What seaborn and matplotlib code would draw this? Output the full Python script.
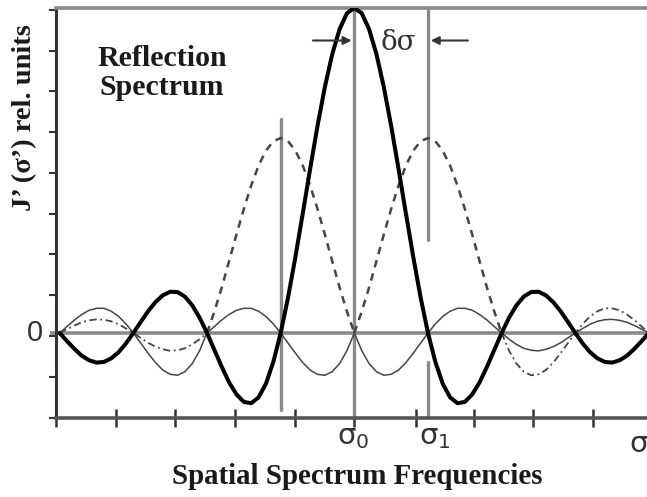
import numpy as np
import pandas as pd
import matplotlib
matplotlib.use("Agg")
import matplotlib.pyplot as plt
import seaborn as sns
from matplotlib.transforms import blended_transform_factory

# ---- data ----
u = np.round(np.linspace(-4.0, 4.0, 81), 1)   # frequency axis, in units of the zero spacing

main_resp = [
    0.000, -0.025, -0.049, -0.070, -0.084, -0.091, -0.089, -0.078, -0.059, -0.032,
    0.000, 0.034, 0.067, 0.095, 0.116, 0.127, 0.126, 0.112, 0.085, 0.047,
    0.000, -0.052, -0.104, -0.152, -0.189, -0.212, -0.216, -0.198, -0.156, -0.089,
    0.000, 0.109, 0.234, 0.368, 0.505, 0.637, 0.757, 0.858, 0.935, 0.984,
    1.000,
    0.984, 0.935, 0.858, 0.757, 0.637, 0.505, 0.368, 0.234, 0.109, 0.000,
    -0.089, -0.156, -0.198, -0.216, -0.212, -0.189, -0.152, -0.104, -0.052, 0.000,
    0.047, 0.085, 0.112, 0.126, 0.127, 0.116, 0.095, 0.067, 0.034, 0.000,
    -0.032, -0.059, -0.078, -0.089, -0.091, -0.084, -0.070, -0.049, -0.025, 0.000,
]

left_resp = [
    0.000, 0.020, 0.040, 0.057, 0.070, 0.076, 0.076, 0.067, 0.051, 0.028,
    0.000, -0.031, -0.062, -0.091, -0.114, -0.127, -0.130, -0.119, -0.094, -0.054,
    0.000, 0.066, 0.140, 0.221, 0.303, 0.382, 0.454, 0.515, 0.561, 0.590,
    0.600,
    0.590, 0.561, 0.515, 0.454, 0.382, 0.303, 0.221, 0.140, 0.066, 0.000,
    -0.054, -0.094, -0.119, -0.130, -0.127, -0.114, -0.091, -0.062, -0.031, 0.000,
    0.028, 0.051, 0.067, 0.076, 0.076, 0.070, 0.057, 0.040, 0.020, 0.000,
    -0.019, -0.035, -0.047, -0.053, -0.055, -0.050, -0.042, -0.030, -0.015, 0.000,
    0.014, 0.027, 0.036, 0.041, 0.042, 0.039, 0.033, 0.023, 0.012, 0.000,
]

right_resp = [
    0.000, 0.012, 0.023, 0.033, 0.039, 0.042, 0.041, 0.036, 0.027, 0.014,
    0.000, -0.015, -0.030, -0.042, -0.050, -0.055, -0.053, -0.047, -0.035, -0.019,
    0.000, 0.020, 0.040, 0.057, 0.070, 0.076, 0.076, 0.067, 0.051, 0.028,
    0.000, -0.031, -0.062, -0.091, -0.114, -0.127, -0.130, -0.119, -0.094, -0.054,
    0.000, 0.066, 0.140, 0.221, 0.303, 0.382, 0.454, 0.515, 0.561, 0.590,
    0.600,
    0.590, 0.561, 0.515, 0.454, 0.382, 0.303, 0.221, 0.140, 0.066, 0.000,
    -0.054, -0.094, -0.119, -0.130, -0.127, -0.114, -0.091, -0.062, -0.031, 0.000,
    0.028, 0.051, 0.067, 0.076, 0.076, 0.070, 0.057, 0.040, 0.020, 0.000,
]

sigma0, sigma1, sigma_left = 0.0, 1.0, -1.0
x_tick_pos = [-4.05, -3.24, -2.43, -1.62, -0.81, 0.0, 0.84, 1.62, 2.43, 3.24]
y_tick_pos = [-0.26, -0.135, -0.009, 0.116, 0.242, 0.367, 0.493, 0.618, 0.744, 0.869, 0.995]

df = pd.DataFrame({"u": u, "main": main_resp, "left": left_resp, "right": right_resp})

# ---- figure ----
sns.set_style("white")
plt.rcParams["font.family"] = ["Liberation Serif", "DejaVu Serif"]
plt.rcParams["mathtext.fontset"] = "dejavusans"

fig = plt.figure(figsize=(6.47, 4.97), dpi=100)
ax = fig.add_axes([56 / 647, 79 / 497, 591 / 647, 410 / 497])
ax.set_xlim(-4.014, 3.973)
ax.set_ylim(-0.2615, 1.0)

gray = "#8a8a8a"
dark = "#454545"

# reference lines
ax.plot([-4.13, 4.1], [0, 0], color=gray, lw=2.6, zorder=1, clip_on=False, solid_capstyle="butt")
ax.plot([sigma_left, sigma_left], [-0.237, 0.66], color=gray, lw=2.4, zorder=1)
ax.plot([sigma0, sigma0], [-0.2615, 1.0], color=gray, lw=2.4, zorder=1)
ax.plot([sigma1, sigma1], [0.286, 1.0], color=gray, lw=2.4, zorder=1)
ax.plot([sigma1, sigma1], [-0.2615, -0.09], color=gray, lw=2.4, zorder=1)

# shifted responses
m = df["u"]
seg = [
    ("left", (m >= -2.0) & (m <= 0.0), (0, (3.0, 2.5)), 1.8),
    ("left", m <= -2.0, "-", 1.1),
    ("left", m >= 0.0, "-", 1.1),
    ("right", (m >= 0.0) & (m <= 2.0), (0, (3.0, 2.5)), 1.8),
    ("right", (m >= -2.0) & (m <= 0.0), "-", 1.1),
    ("right", m <= -2.0, (0, (4, 2, 1, 2)), 1.3),
    ("right", m >= 2.0, (0, (4, 2, 1, 2)), 1.3),
]
for col, mask, ls, lw in seg:
    sub = df[mask]
    sns.lineplot(x=sub["u"], y=sub[col], ax=ax, color=dark, linewidth=lw,
                 linestyle=ls, errorbar=None, zorder=2)

# main (sum) response
sns.lineplot(data=df, x="u", y="main", ax=ax, color="black", linewidth=2.9,
             errorbar=None, zorder=3)

# spines
ax.spines["right"].set_visible(False)
ax.spines["top"].set_color(gray)
ax.spines["top"].set_linewidth(2.6)
ax.spines["left"].set_color("#333333")
ax.spines["left"].set_linewidth(2.2)
ax.spines["bottom"].set_color("#555555")
ax.spines["bottom"].set_linewidth(2.6)

ax.set_xticks(x_tick_pos)
ax.set_xticklabels([])
ax.set_yticks(y_tick_pos)
ax.set_yticklabels([])
ax.tick_params(axis="x", direction="inout", length=13, width=1.8, color="#333333", bottom=True)
ax.tick_params(axis="y", direction="out", length=5, width=1.5, color="#333333", left=True)
ax.set_xlabel("")
ax.set_ylabel("")

# texts
trans = blended_transform_factory(ax.transData, ax.transAxes)
ax.text(-0.02, -0.018, r"$\mathrm{\sigma}_\mathrm{0}$", transform=trans, fontsize=21,
        ha="center", va="top", color="#333333")
ax.text(1.09, -0.018, r"$\mathrm{\sigma}_\mathrm{1}$", transform=trans, fontsize=21,
        ha="center", va="top", color="#333333")
ax.text(3.86, -0.033, r"$\mathrm{\sigma}$", transform=trans, fontsize=21,
        ha="center", va="top", color="#333333")
ax.text(-4.33, 0.0, "0", fontsize=21, ha="center", va="center", color="#333333",
        family="Liberation Sans", clip_on=False)
ax.text(0.6, 0.895, "δσ", fontsize=20, ha="center", va="center", color="#333333",
        family="DejaVu Serif")
ax.annotate("", xy=(sigma0, 0.90), xytext=(-0.6, 0.90),
            arrowprops=dict(arrowstyle="-|>", color="#333333", lw=1.5, mutation_scale=12))
ax.annotate("", xy=(sigma1, 0.90), xytext=(1.58, 0.90),
            arrowprops=dict(arrowstyle="-|>", color="#333333", lw=1.5, mutation_scale=12))

ax.text(-2.61, 0.80, "Reflection\nSpectrum", fontsize=21.5, fontweight="bold",
        ha="center", va="center", linespacing=1.12, color="#1a1a1a")

fig.text(357 / 647, 1 - 477 / 497, "Spatial Spectrum Frequencies", fontsize=20.8,
         fontweight="bold", ha="center", va="center", color="#1a1a1a")
fig.text(25 / 647, 1 - 118 / 497, "J’ (σ’) rel. units", fontsize=20.5, fontweight="bold",
         ha="center", va="center", rotation=90, color="#1a1a1a")

fig.savefig("out.png", dpi=100)
